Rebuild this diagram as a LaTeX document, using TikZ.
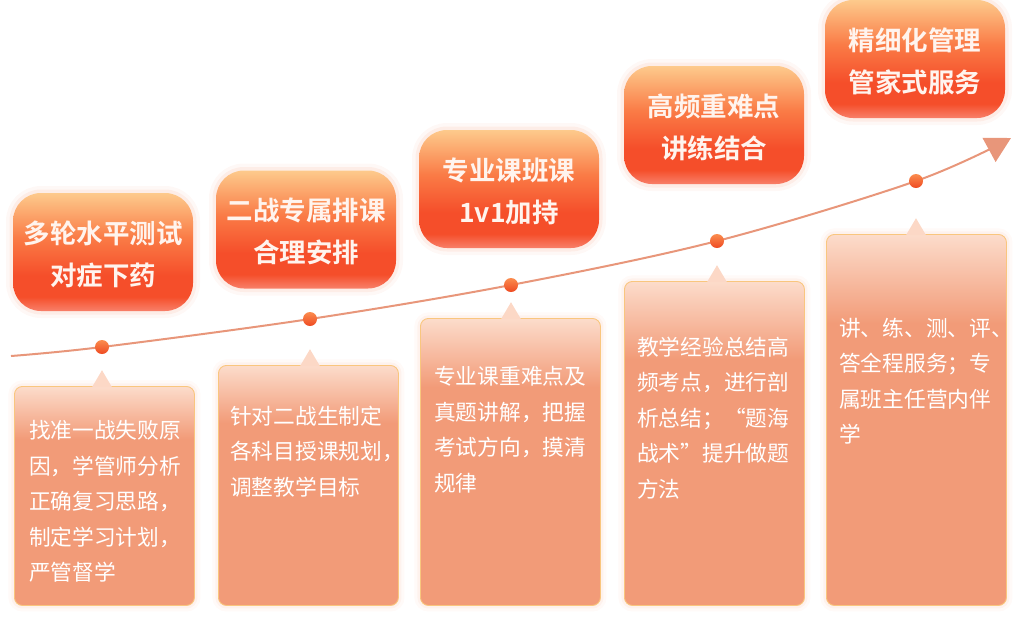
\documentclass[tikz,border=0pt]{standalone}
\usepackage{fontspec}
\newfontfamily\cjk{Noto Sans CJK SC}
\newfontfamily\cjkbold{Noto Sans CJK SC Bold}
\usetikzlibrary{arrows.meta}
\definecolor{hdtop}{HTML}{FDCA8C}
\definecolor{hdmid}{HTML}{FA7B46}
\definecolor{hdred}{HTML}{F54E2A}
\definecolor{hdbot}{HTML}{F8806A}
\definecolor{lowtop}{HTML}{FCDCCB}
\definecolor{lowfill}{HTML}{F29B78}
\definecolor{lowedge}{HTML}{F9C67E}
\definecolor{tipfill}{HTML}{FCD8C6}
\definecolor{curvecol}{HTML}{E8967A}
\definecolor{dotlight}{HTML}{FB8C4E}
\definecolor{dotdark}{HTML}{EE4A22}
\definecolor{glowcol}{HTML}{F9B9A2}
\definecolor{headtext}{HTML}{FFF4EE}
\pgfdeclareverticalshading{headshade}{100bp}{color(0bp)=(hdbot); color(25bp)=(hdbot); color(31bp)=(hdred); color(40bp)=(hdred); color(56bp)=(hdmid); color(75bp)=(hdtop); color(100bp)=(hdtop)}
\pgfdeclareverticalshading{lowshade}{100bp}{color(0bp)=(lowfill); color(63bp)=(lowfill); color(75bp)=(lowtop); color(100bp)=(lowtop)}
\tikzset{
  headbox/.style={shade, shading=headshade, rounded corners=28pt, minimum width=180pt, minimum height=118pt,
    inner sep=0pt, align=center, text=headtext, font=\cjkbold\fontsize{26.5}{42}\selectfont,
    preaction={draw=glowcol, line width=14pt, opacity=0.10},
    preaction={draw=glowcol, line width=7pt, opacity=0.18}},
  headlabel/.style={inner sep=0pt, align=center, text=headtext, font=\cjkbold\fontsize{26.5}{42}\selectfont},
  lowbox/.style={shade, shading=lowshade, rounded corners=8pt, draw=lowedge, line width=0.9pt,
    minimum width=180pt, inner sep=0pt, anchor=north west,
    preaction={draw=glowcol, line width=12pt, opacity=0.08},
    preaction={draw=glowcol, line width=6pt, opacity=0.12}},
  lowtext/.style={anchor=north west, inner sep=0pt, align=left, text=white, font=\cjk\fontsize{21.7}{35.5}\selectfont},
  dotnode/.style={circle, inner sep=0pt, minimum size=14pt, top color=dotlight, bottom color=dotdark},
  curveline/.style={draw=curvecol, line width=2pt, -{Triangle[length=25pt,width=27pt]}},
  pointer/.style={fill=tipfill}
}
\begin{document}
\begin{tikzpicture}[x=1pt,y=-1pt]
\useasboundingbox (0,0) rectangle (1021,625);
% header boxes
\node[headbox] (h1) at (103,252) {};
\node[headbox] (h2) at (306,229.5) {};
\node[headbox] (h3) at (509,189) {};
\node[headbox] (h4) at (714,125) {};
\node[headbox] (h5) at (915,59) {};
\node[headlabel] (l1) at ([yshift=-2pt]h1.center) {多轮水平测试\\对症下药};
\node[headlabel] (l2) at ([yshift=-2pt]h2.center) {二战专属排课\\合理安排};
\node[headlabel] (l3) at ([yshift=-2pt]h3.center) {专业课班课\\1v1加持};
\node[headlabel] (l4) at ([yshift=-2pt]h4.center) {高频重难点\\讲练结合};
\node[headlabel] (l5) at ([yshift=-2pt]h5.center) {精细化管理\\管家式服务};
% lower boxes
\node[lowbox, minimum height=219pt] (b1) at (14,386) {};
\node[lowbox, minimum height=240pt] (b2) at (218,365) {};
\node[lowbox, minimum height=287pt] (b3) at (420,318) {};
\node[lowbox, minimum height=324pt] (b4) at (624,281) {};
\node[lowbox, minimum height=371pt] (b5) at (826,234) {};
% curve
\coordinate (s) at (11,356);
\coordinate (p1) at (102,347);
\coordinate (p2) at (310,319);
\coordinate (p3) at (511,285);
\coordinate (p4) at (717,241);
\coordinate (p5) at (916,181);
\coordinate (e) at (1011,138);
\draw[curveline] plot[smooth, tension=0.55] coordinates {(s) (p1) (p2) (p3) (p4) (p5) (e)};
\node[dotnode] (d1) at (p1) {};
\node[dotnode] (d2) at (p2) {};
\node[dotnode] (d3) at (p3) {};
\node[dotnode] (d4) at (p4) {};
\node[dotnode] (d5) at (p5) {};
% pointers
\foreach \d/\b in {d1/b1,d2/b2,d3/b3,d4/b4,d5/b5}{
  \fill[pointer] (\d |- \b.north) ++(-10,1.2) -- ++(10,-17) -- ++(10,17) -- cycle;
}
% texts
\node[lowtext] (t1) at (29,420.5) {找准一战失败原\\因，学管师分析\\正确复习思路，\\制定学习计划，\\严管督学};
\node[lowtext] (t2) at (230,405.5) {针对二战生制定\\各科目授课规划，\\调整教学目标};
\node[lowtext] (t3) at (434,366.5) {专业课重难点及\\真题讲解，把握\\考试方向，摸清\\规律};
\node[lowtext] (t4) at (637,336.5) {教学经验总结高\\频考点，进行剖\\析总结；“题海\\战术”提升做题\\方法};
\node[lowtext] (t5) at (839,317.5) {讲、练、测、评、\\答全程服务；专\\属班主任营内伴\\学};
\end{tikzpicture}
\end{document}
